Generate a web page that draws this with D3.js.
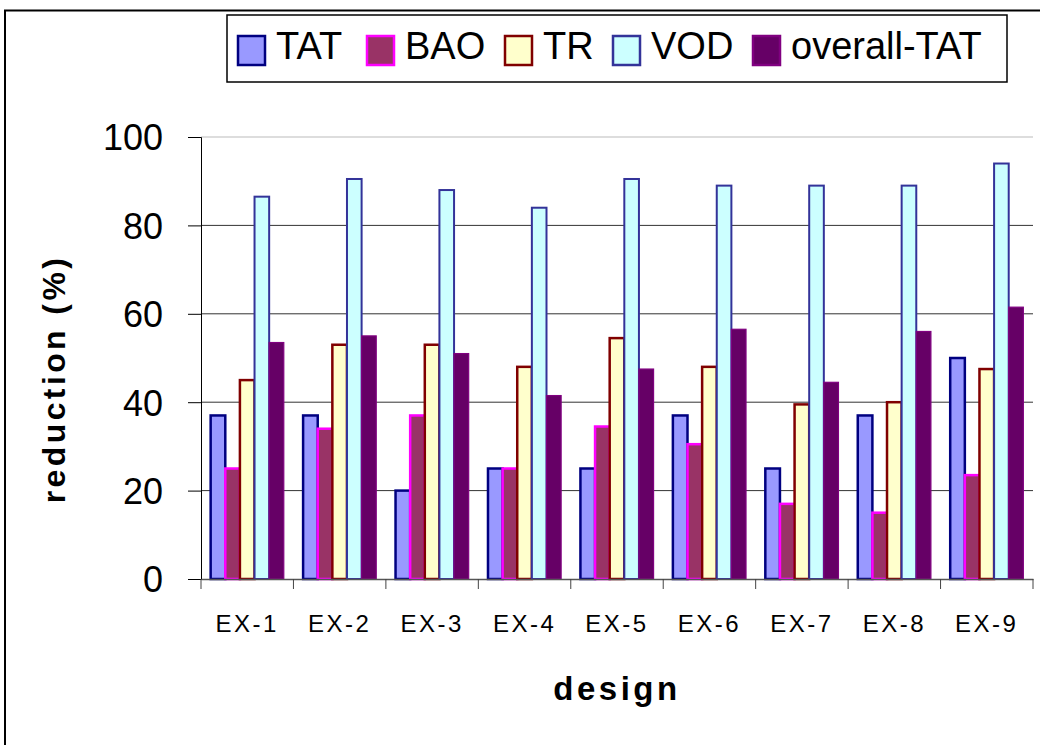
<!DOCTYPE html>
<html>
<head>
<meta charset="utf-8">
<style>
  body { margin: 0; background: #fff; }
  svg { font-family: Arial, 'Liberation Sans', sans-serif; }
</style>
</head>
<body>
<svg width="1040" height="745"></svg>
<script src="https://d3js.org/d3.v7.min.js"></script>
<script>
// data
const designs = ["EX-1", "EX-2", "EX-3", "EX-4", "EX-5", "EX-6", "EX-7", "EX-8", "EX-9"];
const series = ["TAT", "BAO", "TR", "VOD", "overall-TAT"];
const tat = [37, 37, 20, 25, 25, 37, 25, 37, 50];
const bao = [25, 34, 37, 25, 34.5, 30.5, 17, 15, 23.5];
const tr = [45, 53, 53, 48, 54.5, 48, 39.5, 40, 47.5];
const vod = [86.5, 90.5, 88, 84, 90.5, 89, 89, 89, 94];
const overall = [53.5, 55, 51, 41.5, 47.5, 56.5, 44.5, 56, 61.5];
const yTicks = [0, 20, 40, 60, 80, 100];

const values = [tat, bao, tr, vod, overall];
const fills = ["#9999ff", "#993366", "#ffffcc", "#ccffff", "#660066"];
const strokes = ["#000080", "#ff00ff", "#800000", "#333399", "#800080"];
const strokeW = [2.5, 2.5, 2.5, 2, 1.2];

const svg = d3.select("svg");
const margin = { left: 201, right: 1033, top: 137, bottom: 579 };

// outer frame
svg.append("path")
  .attr("d", "M1040,10.5 H5 V745")
  .attr("fill", "none").attr("stroke", "#000").attr("stroke-width", 2);

const x = d3.scaleBand().domain(designs).range([margin.left, margin.right]).padding(0);
const xs = d3.scaleBand().domain(series).range([0, x.bandwidth()]).paddingInner(0).paddingOuter(0.66);
const y = d3.scaleLinear().domain([0, 100]).range([margin.bottom, margin.top]);

// gridlines
svg.append("g").selectAll("line")
  .data(yTicks.filter(d => d > 0))
  .join("line")
  .attr("x1", margin.left).attr("x2", margin.right)
  .attr("y1", d => y(d)).attr("y2", d => y(d))
  .attr("stroke", d => d === 100 ? "#bbb" : "#333")
  .attr("stroke-width", 1);

// y axis
const yAxis = svg.append("g")
  .attr("transform", `translate(${margin.left},0)`)
  .call(d3.axisLeft(y).tickValues(yTicks).tickSize(13).tickPadding(25));
yAxis.selectAll("text").style("font-size", "36px").attr("fill", "#000").attr("dy", "0.36em");
yAxis.selectAll("line, path").attr("stroke", "#000");

// bars
const groups = svg.append("g").selectAll("g")
  .data(designs)
  .join("g")
  .attr("transform", d => `translate(${x(d)},0)`);

groups.selectAll("rect")
  .data((d, i) => series.map((s, j) => ({ s, j, v: values[j][i] })))
  .join("rect")
  .attr("x", d => xs(d.s))
  .attr("width", xs.bandwidth())
  .attr("y", d => y(d.v))
  .attr("height", d => y(0) - y(d.v))
  .attr("fill", d => fills[d.j])
  .attr("stroke", d => strokes[d.j])
  .attr("stroke-width", d => strokeW[d.j]);

// x axis
const xAxis = svg.append("g")
  .attr("transform", `translate(0,${margin.bottom})`)
  .call(d3.axisBottom(x).tickSize(0).tickPadding(0));
xAxis.select(".domain").attr("stroke", "#555").attr("stroke-width", 1.5);
xAxis.selectAll("text")
  .attr("y", 53).attr("dy", null)
  .style("font-size", "24px").style("letter-spacing", "2.5px").attr("fill", "#000");
svg.append("g").selectAll("line")
  .data(d3.range(designs.length + 1))
  .join("line")
  .attr("x1", i => margin.left + i * x.step()).attr("x2", i => margin.left + i * x.step())
  .attr("y1", margin.bottom).attr("y2", margin.bottom + 10)
  .attr("stroke", "#444");

// axis titles
svg.append("text")
  .attr("transform", `translate(65,379) rotate(-90)`)
  .attr("text-anchor", "middle")
  .style("font-size", "32px").style("font-weight", "bold").style("letter-spacing", "3.4px")
  .text("reduction (%)");

svg.append("text")
  .attr("x", 617).attr("y", 700)
  .attr("text-anchor", "middle")
  .style("font-size", "33px").style("font-weight", "bold").style("letter-spacing", "3.5px")
  .text("design");

// legend
const legend = svg.append("g");
legend.append("rect")
  .attr("x", 227).attr("y", 15).attr("width", 780).attr("height", 67)
  .attr("fill", "#fff").attr("stroke", "#000").attr("stroke-width", 1.5);
const legX = [237, 366, 504, 612, 752];
const item = legend.selectAll(".item")
  .data(series)
  .join("g")
  .attr("class", "item")
  .attr("transform", (d, i) => `translate(${legX[i]},35)`);
item.append("rect")
  .attr("x", 1).attr("y", 1)
  .attr("width", 27).attr("height", 29)
  .attr("fill", (d, i) => fills[i])
  .attr("stroke", (d, i) => strokes[i])
  .attr("stroke-width", 2.5);
item.append("text")
  .attr("x", 39).attr("y", 24)
  .style("font-size", "38px")
  .text(d => d);
</script>
</body>
</html>
